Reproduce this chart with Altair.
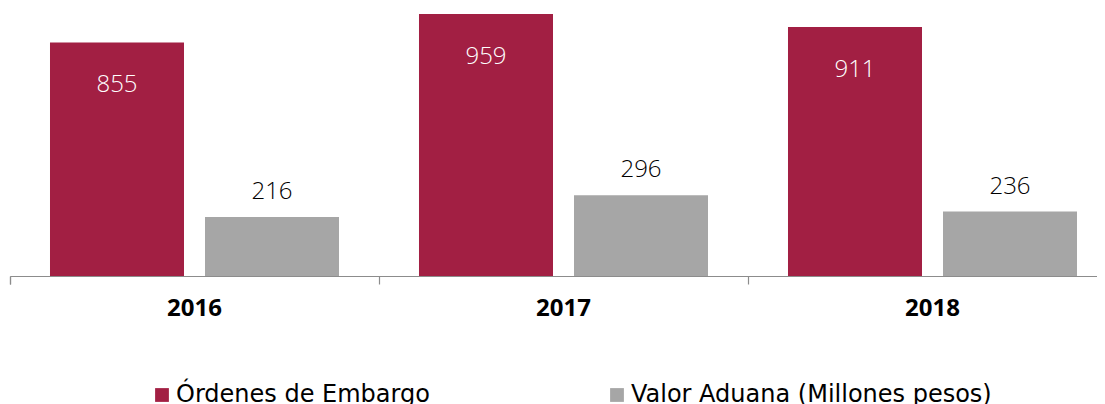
import altair as alt
import pandas as pd

years = ["2016", "2017", "2018"]
series = ["Órdenes de Embargo", "Valor Aduana (Millones pesos)"]
embargo = [855, 959, 911]
aduana = [216, 296, 236]
colors = ["#A21F43", "#A6A6A6"]

rows = []
for i, y in enumerate(years):
    rows.append({"year": y, "serie": series[0], "value": embargo[i]})
    rows.append({"year": y, "serie": series[1], "value": aduana[i]})
df = pd.DataFrame(rows)

FONT = "Open Sans"
LEGEND_FONT = "DejaVu Sans"

x = alt.X("year:N", sort=years, title=None,
          scale=alt.Scale(paddingInner=0, paddingOuter=0, range=[0, 1107]),
          axis=alt.Axis(labelAngle=0, labelFont=FONT, labelFontSize=24,
                        labelFontWeight="bold", labelColor="#000000",
                        labelPadding=12, bandPosition=0, tickExtra=True,
                        tickSize=8, tickColor="#8c8c8c", domainColor="#8c8c8c",
                        domainWidth=1.2, tickWidth=1.2, grid=False))
xo = alt.XOffset("serie:N", sort=series,
                 scale=alt.Scale(paddingInner=0.1355, paddingOuter=0.258))
y = alt.Y("value:Q", scale=alt.Scale(domain=[0, 981], nice=False), axis=None)

bars = alt.Chart(df).mark_bar().encode(
    x=x, xOffset=xo, y=y,
    color=alt.Color("serie:N", sort=series,
                    scale=alt.Scale(domain=series, range=colors),
                    legend=alt.Legend(title=None, orient="none", legendX=140, legendY=375,
                                      direction="horizontal", symbolType="square",
                                      symbolSize=190, symbolStrokeWidth=0,
                                      labelFont=LEGEND_FONT, labelFontSize=24,
                                      labelColor="#000000", columnPadding=175,
                                      labelLimit=600, symbolOffset=0, labelOffset=2))
)

red_text = alt.Chart(df).transform_filter(
    alt.datum.serie == series[0]
).mark_text(font=FONT, fontSize=24, fontWeight=300, color="white",
            baseline="middle", dy=43).encode(
    x=x, xOffset=xo, y=y, text="value:Q")

gray_text = alt.Chart(df).transform_filter(
    alt.datum.serie == series[1]
).mark_text(font=FONT, fontSize=24, fontWeight=300, color="black",
            baseline="alphabetic", dy=-18).encode(
    x=x, xOffset=xo, y=y, text="value:Q")

chart = alt.layer(bars, red_text, gray_text).properties(
    width=1087, height=268,
    autosize=alt.AutoSizeParams(type="none"),
    padding={"left": 2, "top": 0, "right": 0, "bottom": 130}
).configure_view(stroke=None)

chart.save("out.html", embed_options={"renderer": "svg", "actions": False})
